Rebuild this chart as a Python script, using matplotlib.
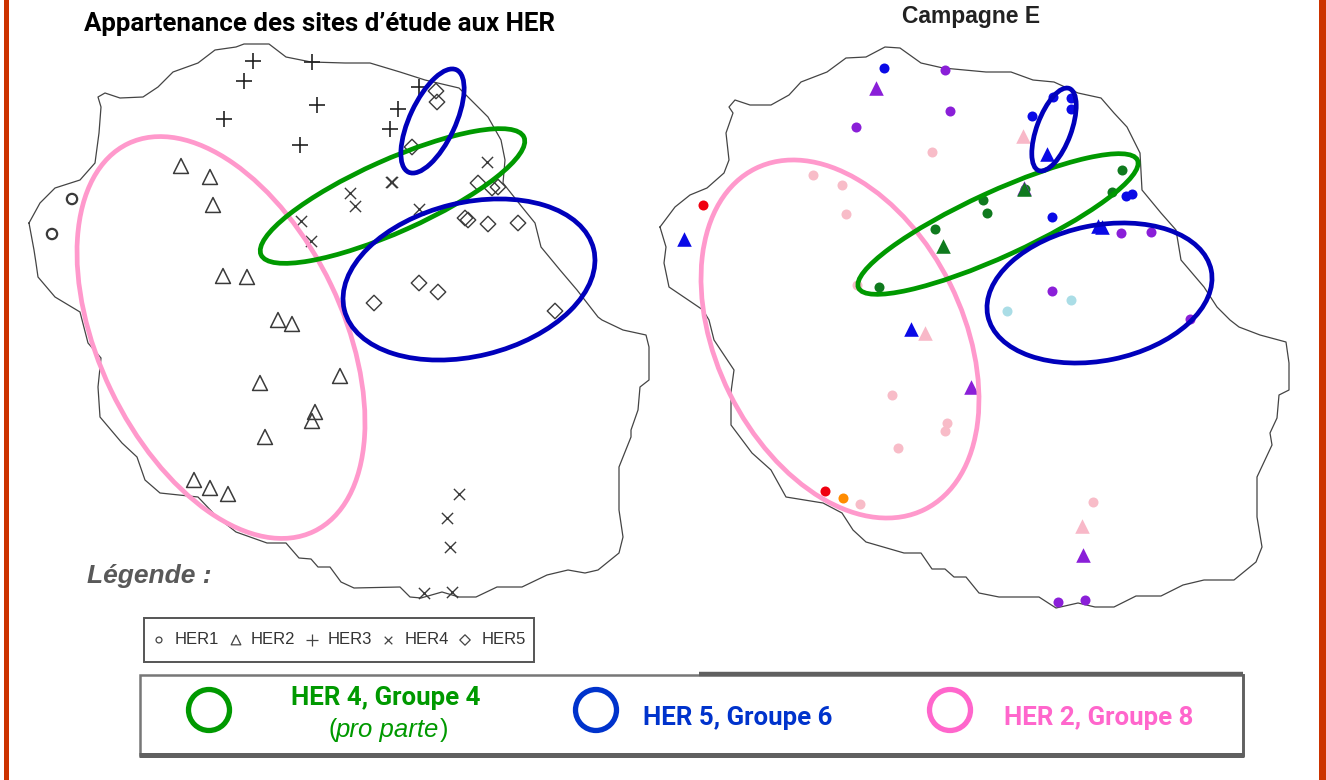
import matplotlib
matplotlib.use("Agg")
import matplotlib.pyplot as plt
from matplotlib.patches import Ellipse, Rectangle

COAST_LEFT = [(29,223),(40,203),(55,188),(80,180),(95,163),(99,133),(101,107),(98,97),(105,93),(120,98),(143,97),(158,87),(173,72),(198,63),(215,50),(236,47),(244,44),(269,44),(286,57),(311,62),(345,63),(370,63),(400,72),(425,80),(459,88),(471,100),(488,117),(501,140),(505,160),(503,183),(522,207),(535,223),(541,247),(560,270),(577,290),(598,317),(602,320),(623,330),(646,335),(649,347),(649,380),(640,387),(638,410),(631,430),(631,437),(619,467),(619,510),(623,537),(619,553),(598,570),(585,573),(568,570),(547,575),(522,587),(497,587),(476,597),(459,597),(442,592),(421,598),(410,597),(400,587),(354,588),(341,582),(330,567),(318,567),(311,559),(299,558),(286,543),(267,543),(236,532),(217,517),(198,497),(160,493),(145,480),(137,457),(122,443),(100,417),(98,387),(101,358),(88,343),(80,312),(55,297),(38,277),(36,263),(34,250),(29,223)]
COAST_RIGHT = [(660,227),(675,207),(690,195),(707,188),(724,173),(729,160),(726,133),(733,113),(729,107),(735,100),(750,105),(771,105),(789,95),(801,82),(827,72),(846,58),(866,57),(885,47),(900,48),(921,63),(943,68),(986,72),(1011,72),(1033,80),(1054,82),(1078,93),(1101,98),(1114,113),(1127,127),(1140,153),(1142,190),(1161,213),(1176,230),(1181,260),(1204,287),(1217,307),(1230,320),(1239,327),(1260,335),(1286,342),(1289,363),(1289,390),(1279,395),(1277,418),(1270,433),(1272,445),(1257,477),(1257,517),(1262,547),(1256,562),(1234,580),(1204,580),(1183,585),(1161,596),(1136,596),(1114,607),(1095,607),(1078,603),(1056,608),(1039,597),(999,597),(979,593),(966,577),(954,577),(945,569),(932,569),(921,553),(904,553),(866,542),(853,530),(842,513),(823,503),(786,497),(771,470),(752,453),(731,425),(731,392),(734,370),(714,340),(709,320),(703,310),(669,287),(664,263),(666,247),(660,227)]

HER1 = [(72,199),(52,234)]
HER2 = [(181,166),(210,177),(213,205),(223,276),(247,277),(278,320),(292,324),(260,383),(340,376),(315,412),(312,421),(265,437),(194,480),(210,488),(228,494)]
HER3 = [(253,61),(244,81),(312,62),(317,105),(224,119),(300,145),(398,109),(390,129),(419,87)]
HER4 = [(487,162),(391,182),(392,182),(350,193),(355,206),(419,209),(301,221),(311,241),(459,494),(447,518),(450,547),(424,593),(452,592)]
HER5 = [(436,91),(437,102),(412,147),(478,183),(492,188),(498,187),(465,218),(468,220),(488,224),(518,223),(419,283),(438,292),(374,303),(555,311)]

C_BLUE = [(884,68),(1053,97),(1071,98),(1071,109),(1032,116),(1052,217),(1126,196),(1132,194)]
C_PURPLE = [(945,70),(950,111),(856,127),(1121,233),(1151,232),(1052,291),(1190,319),(1058,602),(1085,600)]
C_GREEN = [(1122,170),(1112,192),(1025,189),(983,200),(987,213),(935,229),(879,287)]
C_PINK = [(932,152),(813,175),(842,185),(846,214),(857,285),(892,395),(947,423),(945,431),(898,448),(860,504),(1093,502)]
C_RED = [(703,205),(825,491)]
C_ORANGE = [(843,498)]
C_CYAN = [(1071,300),(1007,311)]
T_PURPLE = [(876,88),(971,387),(1083,555),(1024,188)]
T_PINK = [(1023,136),(925,333),(1082,526)]
T_BLUE = [(1047,154),(684,239),(911,329),(1098,226),(1102,227)]
T_GREEN = [(943,246),(1024,189)]

LEGEND_LABELS = ["HER1","HER2","HER3","HER4","HER5"]
GROUP_LABELS = ["HER 4, Groupe 4","HER 5, Groupe 6","HER 2, Groupe 8"]

PINK, GREEN, BLUE = "#ff99cc", "#009900", "#0000bb"
FONT = ["Roboto", "Liberation Sans", "DejaVu Sans"]
SANS = ["Liberation Sans", "DejaVu Sans"]
fig = plt.figure(figsize=(13.26, 7.8), dpi=100, facecolor="white")
ax = fig.add_axes([0, 0, 1, 1])
ax.set_xlim(0, 1326); ax.set_ylim(780, 0); ax.axis("off")

def sc(points, **kw):
    ax.scatter([p[0] for p in points], [p[1] for p in points], zorder=3, **kw)

for coast in (COAST_LEFT, COAST_RIGHT):
    ax.plot([p[0] for p in coast], [p[1] for p in coast], color="#444444", lw=0.9, zorder=2)

dark = "#3a3a3a"
sc(HER1, marker="o", s=55, facecolors="none", edgecolors=dark, linewidths=1.6)
sc(HER2, marker="^", s=115, facecolors="none", edgecolors=dark, linewidths=1.1)
sc(HER3, marker="+", s=130, color="#222222", linewidths=1.2)
sc(HER4, marker="x", s=65, color=dark, linewidths=1.0)
sc(HER5, marker="D", s=62, facecolors="none", edgecolors=dark, linewidths=1.0)

for pts, col in ((C_BLUE,"#0a0ae6"),(C_PURPLE,"#8a1fd8"),(C_GREEN,"#0f7a1e"),(C_PINK,"#f8bcc8"),
                 (C_RED,"#f00010"),(C_ORANGE,"#ff8c00"),(C_CYAN,"#aadde6")):
    sc(pts, marker="o", s=52, color=col, linewidths=0)
for pts, col in ((T_PURPLE,"#8a1fd8"),(T_PINK,"#f8b8c8"),(T_BLUE,"#0a0ae6"),(T_GREEN,"#0f7a1e")):
    sc(pts, marker="^", s=110, color=col, linewidths=0)

ellipses = [((221,337.5),217,124,64.4,PINK),((392.5,196),146,38,-24.1,GREEN),
            ((432.5,121),58.5,24.8,-64.9,BLUE),((469,279.5),130.3,78.8,-13.7,BLUE),
            ((840,339),192.3,125.1,63.6,PINK),((998,224),155.4,34.4,-24.6,GREEN),
            ((1054,129.5),45.8,19.2,-69.6,BLUE),((1099.5,293),116,69.6,-11.5,BLUE)]
for c, a, b, ang, col in ellipses:
    ax.add_patch(Ellipse(c, 2*a-4, 2*b-4, angle=ang, fill=False, edgecolor=col, lw=3.4, zorder=4))

# page side rules
ax.add_patch(Rectangle((4,0),5,780,color="#cc3300",lw=0,zorder=1))
ax.add_patch(Rectangle((1319,0),7,780,color="#cc3300",lw=0,zorder=1))

ax.text(84, 24, "Appartenance des sites d’étude aux HER", family=FONT, fontsize=18.6, fontweight="bold", va="center", color="black")
ax.text(902, 16, "Campagne E", family=SANS, fontsize=16.5, fontweight="bold", va="center", color="#222222")
ax.text(87, 576, "Légende :", family=SANS, fontsize=19, fontweight="bold", style="italic", va="center", color="#595959")

# symbol legend
ax.add_patch(Rectangle((144,618),390,44,fill=False,edgecolor="#555555",lw=1.4,zorder=2))
mk = [(159,"o",18,"none"),(236,"^",48,"none"),(312,"+",65,None),(388,"x",30,None),(465,"D",28,"none")]
tx = [175,251,328,405,482]
for (x,m,s,fc),t,lab in zip(mk,tx,LEGEND_LABELS):
    if fc == "none":
        ax.scatter([x],[640],marker=m,s=s,facecolors="none",edgecolors="#444444",linewidths=0.9,zorder=3)
    else:
        ax.scatter([x],[640],marker=m,s=s,color="#444444",linewidths=0.9,zorder=3)
    ax.text(t,640,lab,family=SANS,fontsize=12,va="center",color="#333333")

# group legend
ax.add_patch(Rectangle((140,675),1103,80,fill=False,edgecolor="#777777",lw=1.8,zorder=2))
ax.plot([699,1243],[673.5,673.5],color="#606060",lw=3.2,solid_capstyle="butt",zorder=3)
ax.plot([139,1244],[754.5,754.5],color="#606060",lw=3.6,solid_capstyle="butt",zorder=3)
ax.plot([1243,1243],[675,755],color="#606060",lw=2,zorder=3)
for x,col in ((209,"#009900"),(596,"#0033cc"),(950,"#ff66cc")):
    ax.add_patch(Ellipse((x,710),41,41,fill=False,edgecolor=col,lw=3.8,zorder=3))
ax.text(386,698,GROUP_LABELS[0],family=FONT,fontsize=18.6,fontweight="bold",ha="center",va="center",color="#009900")
ax.text(328,730,"(",family=SANS,fontsize=18,ha="left",va="center",color="#009900")
ax.text(336,730,"pro parte",family=SANS,fontsize=18.5,style="italic",ha="left",va="center",color="#009900")
ax.text(440,730,")",family=SANS,fontsize=18,ha="left",va="center",color="#009900")
ax.text(738,718,GROUP_LABELS[1],family=FONT,fontsize=18.6,fontweight="bold",ha="center",va="center",color="#0033cc")
ax.text(1099,718,GROUP_LABELS[2],family=FONT,fontsize=18.6,fontweight="bold",ha="center",va="center",color="#ff66cc")

fig.savefig("out.png", dpi=100, facecolor="white")
